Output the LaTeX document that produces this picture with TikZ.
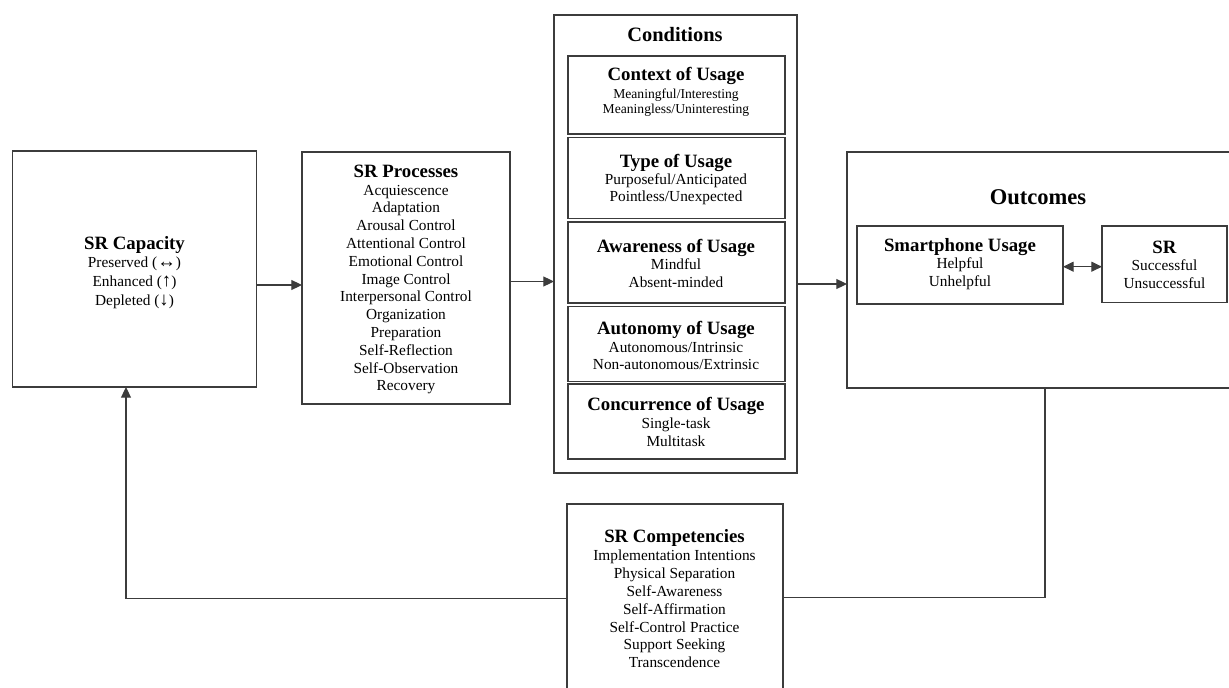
\documentclass[tikz,border=0pt]{standalone}
\usepackage{fontspec}
\setmainfont{Liberation Serif}
\usetikzlibrary{arrows.meta}
\definecolor{lc}{HTML}{3C3C3C}
\newcommand\boxtitle[1]{{\fontsize{14.1}{13}\selectfont\bfseries #1}}
\newcommand\bigarrow[1]{{\fontsize{14}{13}\selectfont #1}}
\begin{document}
\begin{tikzpicture}[x=0.75pt,y=-0.75pt,
  box/.style={draw=lc,line width=0.9pt,rectangle,inner sep=0pt,outer sep=0pt},
  sz/.style 2 args={minimum width=#1*0.75pt,minimum height=#2*0.75pt},
  txt/.style={align=center,inner sep=0pt,text=black},
  ln/.style={draw=lc,line width=0.8pt},
  tip/.tip={Triangle[length=8pt,width=7.5pt]},
  arr/.style={ln,-tip},
  darr/.style={ln,tip-tip}]
\useasboundingbox (0,0) rectangle (1229,688);

% frames
\node[box,sz={244}{236}] (cap) at (134.5,269) {};
\node[box,sz={208}{252}] (proc) at (406,278) {};
\node[box,sz={243}{458}] (cond) at (675.5,244) {};
\node[box,sz={217}{78}] (ctx) at (676.5,95) {};
\node[box,sz={217}{81}] (typ) at (676.5,178) {};
\node[box,sz={217}{81}] (awa) at (676.5,262.5) {};
\node[box,sz={217}{75}] (aut) at (676.5,344) {};
\node[box,sz={217}{75}] (con) at (676.5,421.5) {};
\node[box,sz={384}{236}] (out) at (1039,270) {};
\node[box,sz={206}{78}] (smart) at (960,265) {};
\node[box,sz={125}{76.5}] (sr) at (1164.5,264.25) {};
\node[box,sz={216}{196}] (comp) at (675,602) {};

% texts
\node[txt,font=\fontsize{11.5}{14.25}\selectfont] (capT) at (134.5,272.2)
  {\boxtitle{SR Capacity}\\[-0.7pt]Preserved (\bigarrow{↔})\\Enhanced (\bigarrow{↑})\\Depleted (\bigarrow{↓})};
\node[txt,font=\fontsize{11.5}{13.35}\selectfont] (procT) at (406,279.7)
  {\boxtitle{SR Processes}\\[-0.2pt]Acquiescence\\Adaptation\\Arousal Control\\Attentional Control\\Emotional Control\\Image Control\\Interpersonal Control\\Organization\\Preparation\\Self-Reflection\\Self-Observation\\Recovery};
\node[txt,anchor=base,font=\fontsize{15.3}{16}\selectfont\bfseries] (condT) at (675,41.7) {Conditions};
\node[txt,font=\fontsize{10.2}{11.25}\selectfont] (ctxT) at (676,92)
  {\boxtitle{Context of Usage}\\[2.4pt]Meaningful/Interesting\\Meaningless/Uninteresting};
\node[txt,font=\fontsize{11.5}{13.05}\selectfont] (typT) at (676,180)
  {\boxtitle{Type of Usage}\\[-0.6pt]Purposeful/Anticipated\\Pointless/Unexpected};
\node[txt,font=\fontsize{11.5}{13.5}\selectfont] (awaT) at (676,263.5)
  {\boxtitle{Awareness of Usage}\\[-1.3pt]Mindful\\Absent-minded};
\node[txt,font=\fontsize{11.5}{13.1}\selectfont] (autT) at (676,345.5)
  {\boxtitle{Autonomy of Usage}\\Autonomous/Intrinsic\\Non-autonomous/Extrinsic};
\node[txt,font=\fontsize{11.5}{13.3}\selectfont] (conT) at (676,422.1)
  {\boxtitle{Concurrence of Usage}\\Single-task\\Multitask};
\node[txt,anchor=base,font=\fontsize{16.9}{18}\selectfont\bfseries] (outT) at (1038,204.2) {Outcomes};
\node[txt,font=\fontsize{11.5}{13.8}\selectfont] (smartT) at (960,264.1)
  {\boxtitle{Smartphone Usage}\\[-0.8pt]Helpful\\Unhelpful};
\node[txt,font=\fontsize{11.5}{13.5}\selectfont] (srT) at (1164.5,264.75)
  {\boxtitle{SR}\\[-0.2pt]Successful\\Unsuccessful};
\node[txt,font=\fontsize{11.5}{13.37}\selectfont] (compT) at (674.5,598.8)
  {\boxtitle{SR Competencies}\\[0.1pt]Implementation Intentions\\Physical Separation\\Self-Awareness\\Self-Affirmation\\Self-Control Practice\\Support Seeking\\Transcendence};

% connectors
\coordinate (a1) at (0,285);
\coordinate (a2) at (0,281.5);
\coordinate (a3) at (0,284);
\coordinate (a4) at (0,266.7);
\coordinate (fb1) at (1045,597.5);
\coordinate (fb2) at (126,598.7);
\draw[arr] (cap.east|-a1) -- (proc.west|-a1);
\draw[arr] (proc.east|-a2) -- (cond.west|-a2);
\draw[arr] (cond.east|-a3) -- (out.west|-a3);
\draw[darr] (smart.east|-a4) -- (sr.west|-a4);
\draw[ln] (out.south-|fb1) -- (fb1) -- (comp.east|-fb1);
\draw[arr] (comp.west|-fb2) -- (fb2) -- (cap.south-|fb2);
\end{tikzpicture}
\end{document}
